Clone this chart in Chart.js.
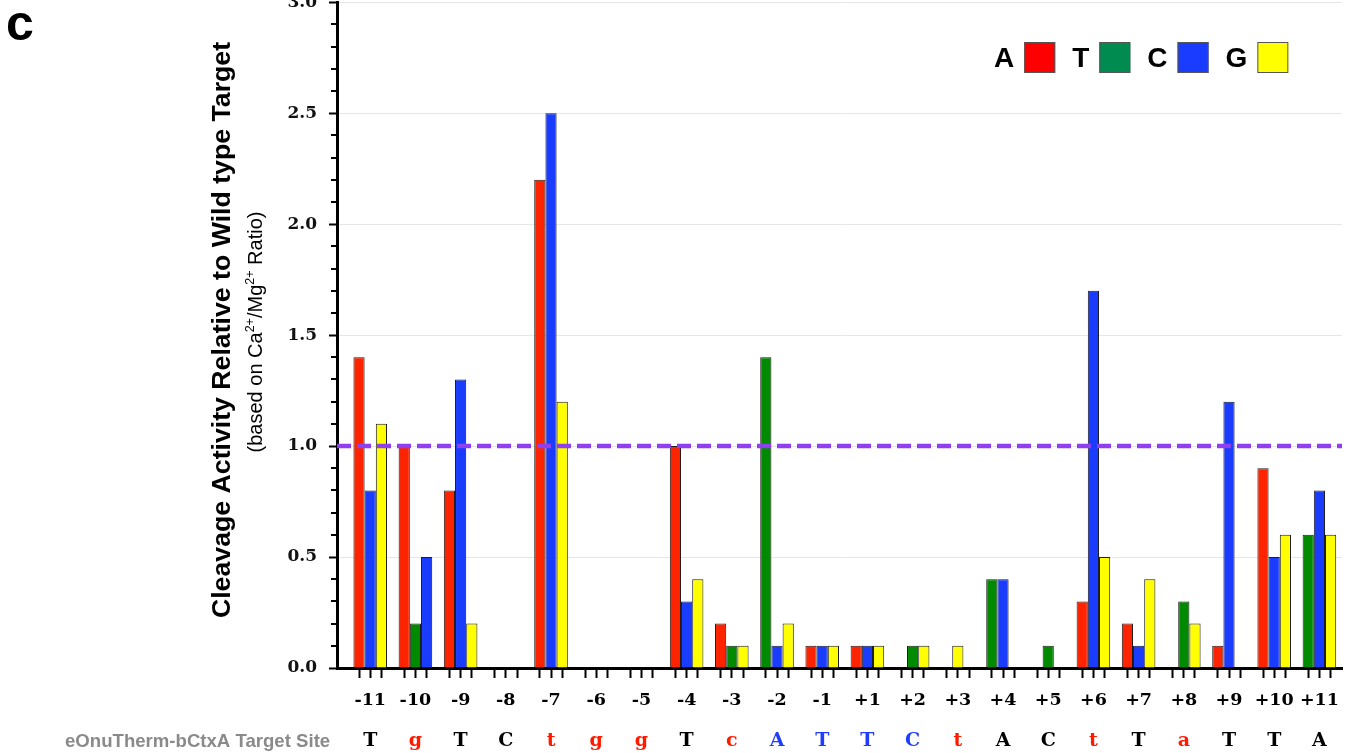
<!DOCTYPE html>
<html>
<head>
<meta charset="utf-8">
<script src="https://cdn.jsdelivr.net/npm/chart.js@4.4.1/dist/chart.umd.min.js"></script>
<style>
  html, body { margin: 0; padding: 0; background: #ffffff; overflow: hidden; width: 1347px; height: 753px; }
  #wrap { position: absolute; left: 0; top: -20px; width: 1347px; height: 773px; }
</style>
</head>
<body>
<div id="wrap"><canvas id="chart" width="1347" height="773"></canvas></div>
<script>
// ---------------- data ----------------
const positions = ['-11','-10','-9','-8','-7','-6','-5','-4','-3','-2','-1','+1','+2','+3','+4','+5','+6','+7','+8','+9','+10','+11'];
const wildType  = ['T','g','T','C','t','g','g','T','c','A','T','T','C','t','A','C','t','T','a','T','T','A'];
const coreSite  = ['-2','-1','+1','+2'];
// substituted base shown in each of the three bar slots of a position
const slotBases = ['ACG','ATC','ACG','ATG','ACG','ATC','ATC','ACG','ATG','TCG','ACG','ACG','ATG','AGC','TCG','ATG','ACG','ACG','CTG','ACG','ACG','TCG'];
const slot1 = [1.4, 1.0, 0.8, 0, 2.2, 0, 0, 1.0, 0.2, 1.4, 0.1, 0.1, 0,   0,   0.4, 0,   0.3, 0.2, 0,   0.1, 0.9, 0.6];
const slot2 = [0.8, 0.2, 1.3, 0, 2.5, 0, 0, 0.3, 0.1, 0.1, 0.1, 0.1, 0.1, 0.1, 0.4, 0.1, 1.7, 0.1, 0.3, 1.2, 0.5, 0.8];
const slot3 = [1.1, 0.5, 0.2, 0, 1.2, 0, 0, 0.4, 0.1, 0.2, 0.1, 0.1, 0.1, 0,   0,   0,   0.5, 0.4, 0.2, 0,   0.6, 0.6];
const wildTypeLevel = 1.0;
const yTickValues = [0, 0.5, 1.0, 1.5, 2.0, 2.5, 3.0];
const legendBases = ['A','T','C','G'];

// ---------------- styles ----------------
const barColor = { A: '#ff2400', T: '#008a00', C: '#1a3cff', G: '#ffff00' };
const legendColor = { A: '#ff0000', T: '#008c50', C: '#1a3cff', G: '#ffff00' };
const SHIFT = 20;          // canvas is shifted up by this many px
const CAT_PCT = 0.743;     // group width as share of a position
const SLOT_OFF = CAT_PCT / 3;
const X_MIN = -0.735, X_MAX = 21.5;
const serif = 'DejaVu Serif';
const sans = 'Liberation Sans';

function slotDataset(values, slot) {
  return {
    type: 'bar',
    order: 1,
    xAxisID: 'x',
    data: values.map((v, i) => ({ x: i, y: v })),
    backgroundColor: (ctx) => {
      const i = ctx.dataIndex;
      if (i === undefined) return '#999';
      return barColor[slotBases[i][slot]];
    },
    borderColor: '#1e1e1e',
    borderWidth: 1,
    categoryPercentage: CAT_PCT,
    barPercentage: 1.0
  };
}

const decor = {
  id: 'decor',
  afterDraw(chart) {
    const ctx = chart.ctx;
    const y = chart.scales.y;
    ctx.save();
    // minor y ticks
    ctx.strokeStyle = '#000';
    ctx.lineWidth = 2;
    for (let k = 1; k < 30; k++) {
      if (k % 5 === 0) continue;
      const py = Math.round(y.getPixelForValue(k / 10));
      ctx.beginPath();
      ctx.moveTo(y.right - 6, py);
      ctx.lineTo(y.right, py);
      ctx.stroke();
    }
    // panel letter
    ctx.fillStyle = '#000';
    ctx.font = 'bold 50px ' + sans;
    ctx.textAlign = 'left';
    ctx.textBaseline = 'alphabetic';
    ctx.fillText('c', 6, 40 + SHIFT);

    // y title
    ctx.save();
    ctx.translate(230, 330 + SHIFT);
    ctx.rotate(-Math.PI / 2);
    ctx.font = 'bold 26.7px ' + sans;
    ctx.textAlign = 'center';
    ctx.fillText('Cleavage Activity Relative to Wild type Target', 0, 0);
    ctx.restore();

    // y subtitle with superscripts
    const segs = [
      ['(based on Ca', false], ['2+', true], ['/Mg', false], ['2+', true], [' Ratio)', false]
    ];
    const fN = '20px ' + sans, fS = '12.5px ' + sans;
    let total = 0;
    segs.forEach(s => { ctx.font = s[1] ? fS : fN; total += ctx.measureText(s[0]).width; });
    ctx.save();
    ctx.translate(262, 332 + SHIFT);
    ctx.rotate(-Math.PI / 2);
    ctx.textAlign = 'left';
    let cx = -total / 2;
    segs.forEach(s => {
      ctx.font = s[1] ? fS : fN;
      ctx.fillText(s[0], cx, s[1] ? -8 : 0);
      cx += ctx.measureText(s[0]).width;
    });
    ctx.restore();

    // legend
    let lx = 994;
    ctx.font = 'bold 28px ' + sans;
    legendBases.forEach(b => {
      ctx.fillStyle = '#000';
      ctx.fillText(b, lx, 67 + SHIFT);
      lx += ctx.measureText(b).width + 10;
      ctx.fillStyle = legendColor[b];
      ctx.fillRect(lx, 42 + SHIFT, 31, 31);
      ctx.strokeStyle = '#555';
      ctx.lineWidth = 1;
      ctx.strokeRect(lx + 0.5, 42.5 + SHIFT, 30, 30);
      lx += 31 + 17;
    });

    // bottom-left caption
    ctx.fillStyle = '#8a8a8a';
    ctx.font = 'bold 18.6px ' + sans;
    ctx.fillText('eOnuTherm-bCtxA Target Site', 65, 747 + SHIFT);
    ctx.restore();
  }
};

new Chart(document.getElementById('chart'), {
  data: {
    datasets: [
      slotDataset(slot1, 0),
      slotDataset(slot2, 1),
      slotDataset(slot3, 2),
      {
        type: 'line',
        order: 0,
        xAxisID: 'x',
        data: [{ x: X_MIN, y: wildTypeLevel }, { x: X_MAX, y: wildTypeLevel }],
        borderColor: '#8f3ff0',
        borderWidth: 4.5,
        borderDash: [14, 6],
        pointRadius: 0,
        fill: false
      }
    ]
  },
  options: {
    responsive: false,
    animation: false,
    devicePixelRatio: 1,
    layout: { padding: { left: 0, right: 5, top: 2 + SHIFT, bottom: 0 } },
    plugins: { legend: { display: false }, tooltip: { enabled: false } },
    scales: {
      // position labels + three tick marks per position (closest to plot)
      xPos: {
        type: 'linear',
        position: 'bottom',
        weight: 0,
        offset: false,
        min: X_MIN, max: X_MAX,
        bounds: 'data',
        z: 1,
        afterBuildTicks: (scale) => {
          const t = [];
          positions.forEach((p, i) => {
            t.push({ value: i - SLOT_OFF }, { value: i }, { value: i + SLOT_OFF });
          });
          scale.ticks = t;
        },
        afterFit: (scale) => { scale.height = 45; },
        ticks: {
          autoSkip: false,
          maxRotation: 0,
          padding: 12,
          color: '#000',
          font: { family: serif, size: 17.5, weight: 'bold' },
          callback: (value, index) => (index % 3 === 1 ? positions[(index - 1) / 3] : '')
        },
        grid: { display: true, offset: false, drawOnChartArea: false, drawTicks: true, tickLength: 10, tickWidth: 2, tickColor: '#000' },
        border: { display: true, color: '#000', width: 3 }
      },
      // wild-type sequence letters; bars are placed on this axis
      x: {
        type: 'linear',
        position: 'bottom',
        weight: 1,
        offset: false,
        min: X_MIN, max: X_MAX,
        bounds: 'data',
        afterBuildTicks: (scale) => { scale.ticks = positions.map((p, i) => ({ value: i })); },
        afterFit: (scale) => { scale.height = 40; },
        ticks: {
          autoSkip: false,
          maxRotation: 0,
          padding: 17,
          font: { family: serif, size: 19, weight: 'bold' },
          color: (ctx) => {
            const i = ctx.index;
            if (coreSite.includes(positions[i])) return '#1f3cff';
            const w = wildType[i];
            return w === w.toLowerCase() ? '#ff1a00' : '#000';
          },
          callback: (value, index) => wildType[index]
        },
        grid: { display: false, offset: false, drawTicks: false },
        border: { display: false }
      },
      y: {
        type: 'linear',
        position: 'left',
        min: 0, max: 3,
        afterBuildTicks: (scale) => { scale.ticks = yTickValues.map(v => ({ value: v })); },
        afterFit: (scale) => { scale.width = 337; },
        ticks: {
          padding: 12,
          color: '#111',
          font: { family: serif, size: 17, weight: 'bold' },
          callback: (v) => Number(v).toFixed(1)
        },
        grid: { color: '#e6e6e6', lineWidth: 1, tickLength: 8, tickWidth: 2, tickColor: '#000' },
        border: { display: true, color: '#000', width: 3 }
      }
    }
  },
  plugins: [decor]
});
</script>
</body>
</html>
